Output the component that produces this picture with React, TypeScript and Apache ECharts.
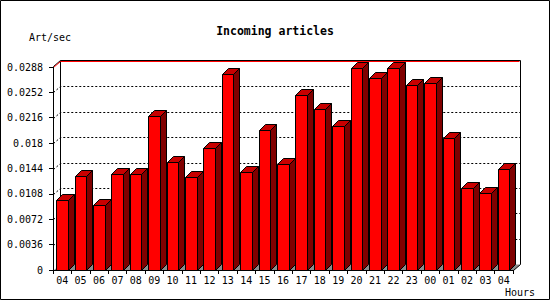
import React, { useEffect, useRef } from "react";
import * as echarts from "echarts";

const hours = ["04","05","06","07","08","09","10","11","12","13","14","15","16","17","18","19","20","21","22","23","00","01","02","03","04"];
const articlesPerSec = [0.0100,0.0133,0.0092,0.0136,0.0136,0.0219,0.0153,0.0132,0.0173,0.0278,0.0139,0.0199,0.0150,0.0248,0.0228,0.0205,0.0286,0.0272,0.0286,0.0262,0.0265,0.0187,0.0117,0.0109,0.0144];
const yTickLabels = ["0","0.0036","0.0072","0.0108","0.0144","0.018","0.0216","0.0252","0.0288"];
const titleText = "Incoming articles";
const yUnit = "Art/sec";
const xUnit = "Hours";

const FONT = "'DejaVu Sans Mono', monospace";

export default function App() {
  const ref = useRef<HTMLDivElement>(null);
  useEffect(() => {
    if (!ref.current) return;
    const chart = echarts.init(ref.current, null, { renderer: "svg", width: 550, height: 300 });
    const yVals = yTickLabels.map(Number);
    const yMax = yVals[yVals.length - 1];
    const yStep = yVals[1] - yVals[0];

    const frameRender = (params: any, api: any) => {
      const cs = params.coordSys;
      const L = Math.round(cs.x) + 0.5;
      const T = Math.round(cs.y) + 0.5;
      const R = Math.round(cs.x + cs.width) + 0.5;
      const B = Math.round(cs.y + cs.height) + 0.5;
      const dx = 7, dy = 6;
      const children: any[] = [];
      children.push({
        type: "polygon",
        shape: { points: [[L, B], [R, B], [R + dx, B - dy], [L + dx, B - dy]] },
        style: { fill: "#8c8c8c", stroke: "none" },
      });
      for (let i = 1; i < yVals.length - 1; i++) {
        const y = Math.round(api.coord([0, yVals[i]])[1]) + 0.5;
        children.push({
          type: "polyline",
          shape: { points: [[L, y], [L + dx, y - dy], [R + dx, y - dy]] },
          style: { stroke: "#000", lineWidth: 1, lineDash: [2, 2], fill: "none" },
        });
      }
      // back wall edges
      children.push({
        type: "polyline",
        shape: { points: [[L + dx, B - dy], [L + dx, T - dy - 1], [R + dx, T - dy - 1], [R + dx, B - dy], [R, B]] },
        style: { stroke: "#000", lineWidth: 1, fill: "none" },
      });
      children.push({
        type: "line",
        shape: { x1: L, y1: T - 1, x2: L + dx, y2: T - dy - 1 },
        style: { stroke: "#000", lineWidth: 1 },
      });
      children.push({
        type: "polyline",
        shape: { points: [[L, T], [L + dx, T - dy], [R + dx - 1, T - dy]] },
        style: { stroke: "#ff0000", lineWidth: 1, fill: "none" },
      });
      return { type: "group", children };
    };

    const barRender = (params: any, api: any) => {
      const idx = api.value(0);
      const v = api.value(1);
      const top = api.coord([idx, v]);
      const base = api.coord([idx, 0]);
      const cx = top[0];
      const x0 = Math.round(cx - 6) + 0.5;
      const x1 = Math.round(cx + 5.5) + 0.5;
      const yT = Math.round(top[1]) + 0.5;
      const y0 = Math.round(base[1]) + 0.5;
      const d = 6;
      return {
        type: "group",
        children: [
          {
            type: "polygon",
            shape: { points: [[x1, yT], [x1 + d, yT - d], [x1 + d, y0 - d], [x1, y0]] },
            style: { fill: "#800000", stroke: "#000", lineWidth: 1 },
          },
          {
            type: "polygon",
            shape: { points: [[x0, yT], [x0 + d, yT - d], [x1 + d, yT - d], [x1, yT]] },
            style: { fill: "#c80000", stroke: "#000", lineWidth: 1 },
          },
          {
            type: "rect",
            shape: { x: x0, y: yT, width: x1 - x0, height: y0 - yT },
            style: { fill: "#ff0000", stroke: "#000", lineWidth: 1 },
          },
        ],
      };
    };

    const option: any = {
      animation: false,
      backgroundColor: "#ffffff",
      title: {
        text: titleText,
        left: "center",
        top: 20,
        textStyle: { fontFamily: FONT, fontSize: 11.5, fontWeight: "bold", color: "#000" },
      },
      grid: { left: 53, top: 67, width: 460, height: 203, containLabel: false },
      xAxis: {
        type: "category",
        data: hours,
        z: 5,
        boundaryGap: true,
        axisLine: { show: true, lineStyle: { color: "#000", width: 1 } },
        axisTick: { show: true, length: 4, alignWithLabel: false, interval: 0, lineStyle: { color: "#000" } },
        axisLabel: { interval: 0, margin: 5, fontFamily: FONT, fontSize: 10, color: "#000" },
        splitLine: { show: false },
      },
      yAxis: {
        type: "value",
        min: 0,
        max: yMax,
        interval: yStep,
        z: 5,
        axisLine: { show: true, lineStyle: { color: "#000", width: 1 } },
        axisTick: { show: true, length: 4, lineStyle: { color: "#000" } },
        axisLabel: {
          margin: 10,
          fontFamily: FONT,
          fontSize: 10,
          color: "#000",
          formatter: (_v: number, i: number) => yTickLabels[i],
        },
        splitLine: { show: false },
      },
      graphic: [
        {
          type: "rect",
          shape: { x: 0.5, y: 0.5, width: 549, height: 299 },
          style: { fill: "none", stroke: "#000", lineWidth: 1 },
          silent: true,
        },
        {
          type: "text",
          x: 29,
          y: 37,
          style: { text: yUnit, fontFamily: FONT, fontSize: 10, fill: "#000", textVerticalAlign: "middle", verticalAlign: "middle" },
        },
        {
          type: "text",
          x: 505,
          y: 292,
          style: { text: xUnit, fontFamily: FONT, fontSize: 10, fill: "#000", verticalAlign: "middle" },
        },
      ],
      series: [
        {
          type: "custom",
          name: "frame",
          z: 1,
          silent: true,
          clip: false,
          renderItem: frameRender,
          data: [[0, 0]],
        },
        {
          type: "custom",
          name: yUnit,
          z: 2,
          clip: false,
          renderItem: barRender,
          data: articlesPerSec.map((v, i) => [i, v]),
        },
      ],
    };
    chart.setOption(option);
    return () => chart.dispose();
  }, []);
  return (
    <div
      ref={ref}
      style={{ position: "fixed", left: 0, top: 0, width: 550, height: 300, background: "#fff" }}
    />
  );
}
